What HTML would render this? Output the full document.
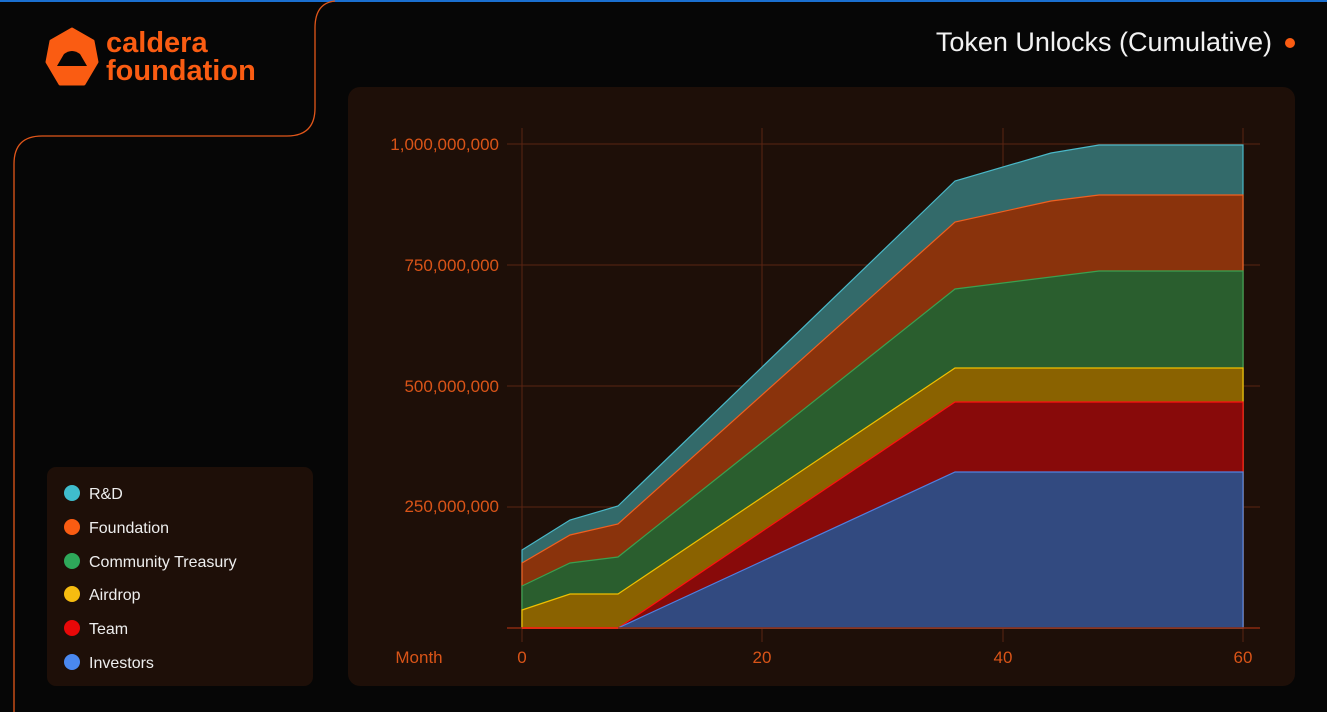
<!DOCTYPE html>
<html><head><style>
body{margin:0;width:1327px;height:712px;background:#060606;overflow:hidden;font-family:"Liberation Sans",sans-serif;}
</style></head><body>
<svg width="1327" height="712" xmlns="http://www.w3.org/2000/svg" style="position:absolute;left:0;top:0">
<rect x="0" y="0" width="1327" height="2" fill="#1a6fd0"/>
<path d="M335,1 Q315,3 315,28 L315,108 Q315,136 287,136 L42,136 Q14,136 14,164 L14,712" fill="none" stroke="#e0561a" stroke-width="1.3"/>
<!-- logo -->
<polygon points="72,29 93,41 97,62 84,84 60,84 47,62 51,41" fill="#fa5c12" stroke="#fa5c12" stroke-width="3" stroke-linejoin="round"/>
<path d="M57,66 L64,54 Q72,48 80,54 L87,66 Z" fill="#060606"/>
<text x="106" y="52" font-size="29" font-weight="bold" fill="#fa5c12">caldera</text>
<text x="106" y="80" font-size="29" font-weight="bold" fill="#fa5c12">foundation</text>
<text x="1272" y="51" font-size="27" fill="#f2f2f2" text-anchor="end">Token Unlocks (Cumulative)</text>
<circle cx="1290" cy="43" r="5" fill="#fa5c12"/>
<!-- chart panel -->
<rect x="348" y="87" width="947" height="599" rx="12" fill="#1e0f08"/>
<!-- grid -->
<g stroke="#5a2412" stroke-width="1">
<line x1="507" y1="144" x2="1260" y2="144"/><line x1="507" y1="265" x2="1260" y2="265"/>
<line x1="507" y1="386" x2="1260" y2="386"/><line x1="507" y1="507" x2="1260" y2="507"/>
<line x1="522" y1="128" x2="522" y2="642"/><line x1="762" y1="128" x2="762" y2="642"/>
<line x1="1003" y1="128" x2="1003" y2="642"/><line x1="1243" y1="128" x2="1243" y2="642"/>
</g>
<!-- areas -->
<polygon points="522,550 570,520 618,506 955,181 1051,153 1099,145 1243,145 1243,628 522,628" fill="#336a6a" stroke="#4ab8c8" stroke-width="1.2"/>
<polygon points="522,563 570,535 618,524 955,222 1051,201 1099,195 1243,195 1243,628 522,628" fill="#8a330c" stroke="#f06020" stroke-width="1.2"/>
<polygon points="522,586 570,563 618,557 955,289 1099,271 1243,271 1243,628 522,628" fill="#2a5e2e" stroke="#3aa050" stroke-width="1.2"/>
<polygon points="522,610 570,594 618,594 955,368 1243,368 1243,628 522,628" fill="#8a6200" stroke="#f0c000" stroke-width="1.2"/>
<polygon points="618,628 955,402 1243,402 1243,628" fill="#880a0a" stroke="#ff1010" stroke-width="1.2"/>
<polygon points="618,628 955,472 1243,472 1243,628" fill="#324a80" stroke="#5080e0" stroke-width="1.2"/>
<line x1="507" y1="628" x2="1260" y2="628" stroke="#8a2a10" stroke-width="1.5"/>
<line x1="522" y1="628" x2="618" y2="628" stroke="#ff2010" stroke-width="1.5"/>
<g font-size="17" fill="#d95418" text-anchor="end">
<text x="499" y="150">1,000,000,000</text><text x="499" y="271">750,000,000</text>
<text x="499" y="392">500,000,000</text><text x="499" y="512">250,000,000</text>
</g>
<g font-size="17" fill="#d95418" text-anchor="middle">
<text x="419" y="663">Month</text><text x="522" y="663">0</text><text x="762" y="663">20</text>
<text x="1003" y="663">40</text><text x="1243" y="663">60</text>
</g>
<!-- legend -->
<rect x="47" y="467" width="266" height="219" rx="9" fill="#1e0f08"/>
<g font-size="16" fill="#eeeeee">
<circle cx="72" cy="493" r="8" fill="#3fbccc"/><text x="89" y="499">R&amp;D</text>
<circle cx="72" cy="527" r="8" fill="#fa5c12"/><text x="89" y="533">Foundation</text>
<circle cx="72" cy="561" r="8" fill="#2ea85a"/><text x="89" y="567">Community Treasury</text>
<circle cx="72" cy="594" r="8" fill="#f6bc10"/><text x="89" y="600">Airdrop</text>
<circle cx="72" cy="628" r="8" fill="#e80808"/><text x="89" y="634">Team</text>
<circle cx="72" cy="662" r="8" fill="#4a88f0"/><text x="89" y="668">Investors</text>
</g>
</svg>
</body></html>
